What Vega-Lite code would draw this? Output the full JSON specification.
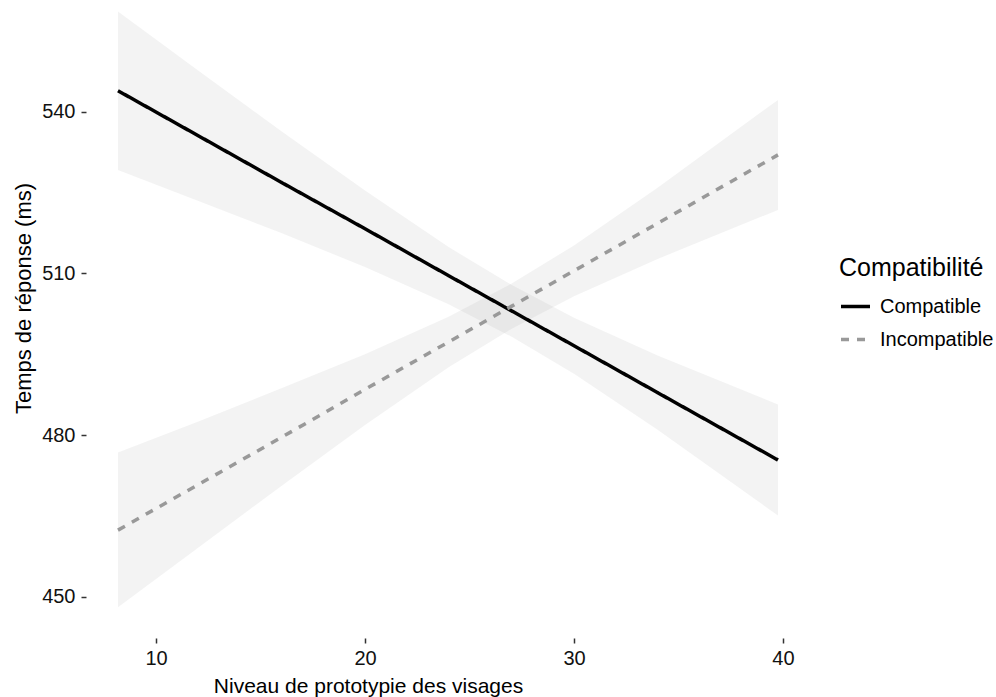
{
  "$schema": "https://vega.github.io/schema/vega-lite/v6.json",
  "width": 725,
  "height": 638,
  "autosize": {"type": "none"},
  "padding": {"left": 86, "top": 0, "right": 185, "bottom": 59},
  "background": "white",
  "config": {
    "view": {"stroke": null},
    "font": "Liberation Sans",
    "axis": {
      "grid": false,
      "domain": false,
      "ticks": true,
      "tickColor": "#333333",
      "tickWidth": 1.5,
      "tickSize": 5,
      "labelColor": "#111111",
      "labelFontSize": 20,
      "labelFont": "Liberation Sans",
      "titleFont": "Liberation Sans",
      "titleFontSize": 21,
      "titleFontWeight": "normal",
      "titleColor": "#000000",
      "labelPadding": 5
    },
    "legend": {
      "titleFont": "Liberation Sans",
      "labelFont": "Liberation Sans",
      "titleFontSize": 25,
      "titleFontWeight": "normal",
      "titleColor": "#000000",
      "labelFontSize": 20,
      "labelColor": "#000000"
    }
  },
  "data": {
    "values": [
      {"x": 8.18, "groupe": "Compatible", "fit": 543.9, "lo": 529.2, "hi": 558.6},
      {"x": 12, "groupe": "Compatible", "fit": 535.6, "lo": 523.5, "hi": 547.7},
      {"x": 16, "groupe": "Compatible", "fit": 526.9, "lo": 517.5, "hi": 536.4},
      {"x": 20, "groupe": "Compatible", "fit": 518.3, "lo": 511.2, "hi": 525.4},
      {"x": 24, "groupe": "Compatible", "fit": 509.6, "lo": 504.3, "hi": 514.9},
      {"x": 27, "groupe": "Compatible", "fit": 503.1, "lo": 498.3, "hi": 507.9},
      {"x": 30, "groupe": "Compatible", "fit": 496.6, "lo": 491.4, "hi": 501.8},
      {"x": 34, "groupe": "Compatible", "fit": 487.9, "lo": 481.0, "hi": 494.8},
      {"x": 39.76, "groupe": "Compatible", "fit": 475.4, "lo": 465.1, "hi": 485.7},
      {"x": 8.18, "groupe": "Incompatible", "fit": 462.4, "lo": 448.1, "hi": 476.8},
      {"x": 12, "groupe": "Incompatible", "fit": 470.8, "lo": 459.1, "hi": 482.5},
      {"x": 16, "groupe": "Incompatible", "fit": 479.6, "lo": 470.6, "hi": 488.7},
      {"x": 20, "groupe": "Incompatible", "fit": 488.5, "lo": 481.9, "hi": 495.0},
      {"x": 24, "groupe": "Incompatible", "fit": 497.3, "lo": 492.6, "hi": 502.0},
      {"x": 27, "groupe": "Incompatible", "fit": 503.9, "lo": 499.7, "hi": 508.1},
      {"x": 30, "groupe": "Incompatible", "fit": 510.5, "lo": 505.8, "hi": 515.2},
      {"x": 34, "groupe": "Incompatible", "fit": 519.3, "lo": 512.7, "hi": 525.9},
      {"x": 39.76, "groupe": "Incompatible", "fit": 532.0, "lo": 521.8, "hi": 542.2}
    ]
  },
  "encoding": {
    "x": {
      "field": "x",
      "type": "quantitative",
      "scale": {"domain": [6.65, 41.34], "nice": false, "zero": false},
      "axis": {"values": [10, 20, 30, 40], "title": "Niveau de prototypie des visages", "titleX": 282, "titleAlign": "center", "titleAnchor": null, "titlePadding": 7}
    }
  },
  "layer": [
    {
      "mark": {"type": "area", "fill": "#999999", "opacity": 0.12, "clip": true},
      "encoding": {
        "y": {
          "field": "lo",
          "type": "quantitative",
          "scale": {"domain": [442.39, 560.73], "nice": false, "zero": false},
          "axis": {"values": [450, 480, 510, 540], "title": "Temps de réponse (ms)", "titleY": 298, "titlePadding": 6, "titleFontSize": 22, "labelPadding": 6}
        },
        "y2": {"field": "hi"},
        "detail": {"field": "groupe"}
      }
    },
    {
      "mark": {"type": "line", "strokeWidth": 3.5, "clip": true},
      "encoding": {
        "y": {"field": "fit", "type": "quantitative"},
        "stroke": {
          "field": "groupe",
          "type": "nominal",
          "scale": {"domain": ["Compatible", "Incompatible"], "range": ["#000000", "#999999"]},
          "legend": {
            "title": "Compatibilité",
            "orient": "none",
            "legendX": 753,
            "legendY": 256,
            "symbolType": "stroke",
            "symbolSize": 841,
            "symbolStrokeWidth": 3.5,
            "labelOffset": 8,
            "rowPadding": 6,
            "titlePadding": 9
          }
        },
        "strokeDash": {
          "field": "groupe",
          "type": "nominal",
          "scale": {"domain": ["Compatible", "Incompatible"], "range": [[1, 0], [8, 8]]},
          "legend": {
            "title": "Compatibilité",
            "orient": "none",
            "legendX": 753,
            "legendY": 256,
            "symbolType": "stroke",
            "symbolSize": 841,
            "symbolStrokeWidth": 3.5,
            "labelOffset": 8,
            "rowPadding": 6,
            "titlePadding": 9
          }
        }
      }
    }
  ]
}
